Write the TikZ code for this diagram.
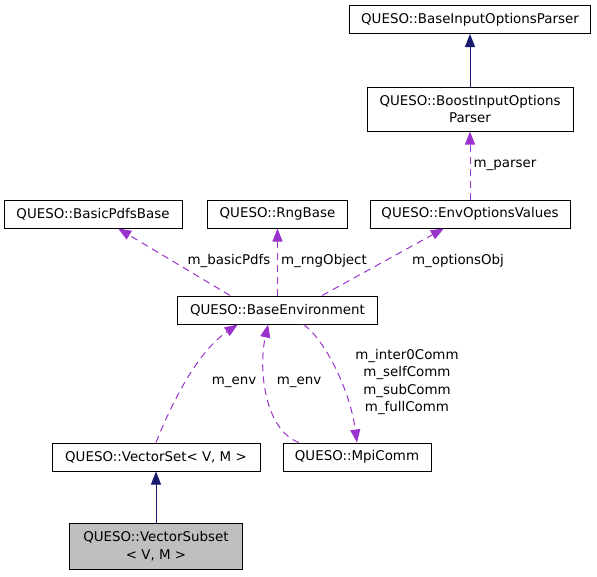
\documentclass[tikz,border=0pt]{standalone}
\usepackage{fontspec}
\setmainfont{DejaVu Sans}
\usetikzlibrary{arrows.meta}

\definecolor{doxnavy}{HTML}{191970}
\definecolor{doxpaars}{HTML}{9A32CD}
\definecolor{doxgrijs}{HTML}{BFBFBF}

\begin{document}
\begin{tikzpicture}[x=1pt,y=-1pt,line width=1pt,
  klasse/.style={draw=black,fill=white,inner sep=0pt,minimum height=28pt,
    align=center,font=\fontsize{13.4}{17.5}\selectfont},
  erft/.style={doxnavy,-{Triangle[length=13pt,width=10pt]}},
  gebruikt/.style={doxpaars,dash pattern=on 7pt off 5pt,
    -{Triangle[length=13pt,width=10pt]}},
  rol/.style={inner sep=0pt,align=center,font=\fontsize{13.4}{17.5}\selectfont}]

  \useasboundingbox (0,0) rectangle (597,576);

  % klassen
  \node[klasse,minimum width=241pt] (parserbasis) at (470,19.5)
    {QUESO::BaseInputOptionsParser};
  \node[klasse,minimum width=206pt,minimum height=44pt] (boostparser) at (470,109)
    {QUESO::BoostInputOptions\\Parser};
  \node[klasse,minimum width=178pt] (pdfs) at (93,214) {QUESO::BasicPdfsBase};
  \node[klasse,minimum width=140pt] (rng) at (277.5,214) {QUESO::RngBase};
  \node[klasse,minimum width=200pt] (opties) at (470,214) {QUESO::EnvOptionsValues};
  \node[klasse,minimum width=200pt] (omgeving) at (277.5,310) {QUESO::BaseEnvironment};
  \node[klasse,minimum width=208pt] (vectorset) at (156,457) {QUESO::VectorSet< V, M >};
  \node[klasse,minimum width=148pt] (mpicomm) at (357,457) {QUESO::MpiComm};
  \node[klasse,minimum width=173pt,minimum height=46pt,fill=doxgrijs] (subset)
    at (156,546) {QUESO::VectorSubset\\< V, M >};

  % overerving
  \draw[erft] (boostparser.north) -- (parserbasis.south);
  \draw[erft] (subset.north) -- (vectorset.south);

  % gebruiksrelaties
  \draw[gebruikt] (opties.north) -- (boostparser.south);
  \draw[gebruikt] (omgeving.163) -- (pdfs.-30);
  \draw[gebruikt] (omgeving.north) -- (rng.south);
  \draw[gebruikt] (omgeving.18) -- (opties.209);
  \draw[gebruikt] (vectorset.north) .. controls (175,395) and (200,350) .. (omgeving.200);
  \draw[gebruikt] (mpicomm.166) .. controls (265,430) and (258,370) .. (omgeving.237);
  \draw[gebruikt] (omgeving.331) .. controls (325,340) and (350,390) .. (mpicomm.north);

  % labels
  \node[rol] (lparser) at (505,165) {m\_parser};
  \node[rol] (lpdfs) at (229,261) {m\_basicPdfs};
  \node[rol] (lrng) at (324,261) {m\_rngObject};
  \node[rol] (lopties) at (458,261) {m\_optionsObj};
  \node[rol] (lenvset) at (234,382) {m\_env};
  \node[rol] (lenvmpi) at (299,382) {m\_env};
  \node[rol] (lcomm) at (407,382)
    {m\_inter0Comm\\m\_selfComm\\m\_subComm\\m\_fullComm};

\end{tikzpicture}
\end{document}
